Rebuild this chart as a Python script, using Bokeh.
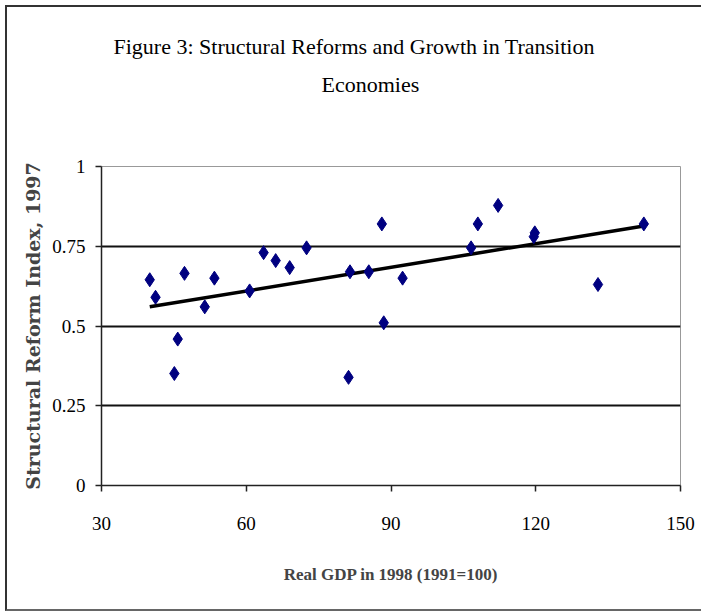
import numpy as np
from bokeh.plotting import figure
from bokeh.models import Range1d, FixedTicker, Title
from bokeh.embed import file_html
from bokeh.resources import INLINE

# ---- data ----
gdp = [40.0, 41.2, 47.2, 45.1, 45.8, 51.4, 53.4, 60.7, 63.6, 66.1, 69.0, 72.5,
       81.2, 81.5, 85.4, 88.1, 88.5, 92.4, 106.6, 108.0, 112.2, 119.6, 119.8,
       132.9, 142.4]
reform = [0.645, 0.59, 0.665, 0.351, 0.459, 0.56, 0.65, 0.61, 0.73, 0.705, 0.683,
          0.745, 0.339, 0.67, 0.67, 0.82, 0.51, 0.65, 0.745, 0.82, 0.878, 0.78,
          0.792, 0.63, 0.82]
x_ticks = [30, 60, 90, 120, 150]
y_ticks = [0, 0.25, 0.5, 0.75, 1]
y_tick_labels = ["0", "0.25", "0.5", "0.75", "1"]
title_lines = ["Figure 3: Structural Reforms and Growth in Transition", "Economies"]
x_title = "Real GDP in 1998 (1991=100)"
y_title = "Structural Reform Index, 1997"

# linear trend fitted to the data
slope, intercept = np.polyfit(gdp, reform, 1)
trend_x = [min(gdp), max(gdp)]
trend_y = [slope * v + intercept for v in trend_x]

p = figure(width=696, height=606, output_backend="svg", toolbar_location=None,
           title_location=None,
           x_range=Range1d(30, 150), y_range=Range1d(0, 1),
           min_border_left=94, min_border_right=23, min_border_top=159,
           min_border_bottom=128)
p.styles = {"border-left": "2px solid #333", "border-top": "2px solid #333",
            "border-bottom": "2px solid #666", "margin-left": "5px",
            "margin-top": "5px"}
p.background_fill_color = "white"
p.border_fill_color = "white"
p.outline_line_color = "#999999"
p.outline_line_width = 1

serif = "Liberation Serif"

# axes
p.xaxis.ticker = FixedTicker(ticks=x_ticks)
p.yaxis.ticker = FixedTicker(ticks=y_ticks)
p.yaxis.major_label_overrides = {t: l for t, l in zip(y_ticks, y_tick_labels)}
for ax in (p.xaxis[0], p.yaxis[0]):
    ax.axis_line_color = "#222222"
    ax.axis_line_width = 1.5
    ax.major_tick_line_color = "#222222"
    ax.major_tick_line_width = 1.5
    ax.major_tick_in = 0
    ax.major_tick_out = 6
    ax.minor_tick_line_color = None
    ax.major_label_text_font = serif
    ax.major_label_text_font_size = "19px"
    ax.major_label_text_color = "black"

p.xaxis.major_label_standoff = 25
p.yaxis.major_label_standoff = 10
p.xaxis.axis_label = x_title
p.xaxis.axis_label_text_font = serif
p.xaxis.axis_label_text_font_style = "bold"
p.xaxis.axis_label_text_font_size = "17px"
p.xaxis.axis_label_standoff = 32
p.yaxis.axis_label = y_title
p.yaxis.axis_label_text_font = "DejaVu Serif"
p.yaxis.axis_label_text_font_style = "bold"
p.yaxis.axis_label_text_font_size = "19px"
p.yaxis.axis_label_standoff = 5

# grid
p.xgrid.grid_line_color = None
p.ygrid.ticker = FixedTicker(ticks=y_ticks[1:])
p.ygrid.grid_line_color = "#111111"
p.ygrid.grid_line_width = 2

# data
p.line(trend_x, trend_y, line_color="black", line_width=3.5)
p.scatter(gdp, reform, marker="diamond", size=14, fill_color="#000080",
          line_color="#000080")

# title: spacer nearest the frame, then the two title lines
p.add_layout(Title(text=" ", align="left", standoff=61,
                   text_font=serif, text_font_size="2px"), "above")
p.add_layout(Title(text=title_lines[1], align="left", offset=220, standoff=10,
                   text_font=serif, text_font_size="22px",
                   text_font_style="normal", text_color="black"), "above")
p.add_layout(Title(text=title_lines[0], align="left", offset=12, standoff=11,
                   text_font=serif, text_font_size="22px",
                   text_font_style="normal", text_color="black"), "above")

open("out.html", "w").write(file_html(p, INLINE))
